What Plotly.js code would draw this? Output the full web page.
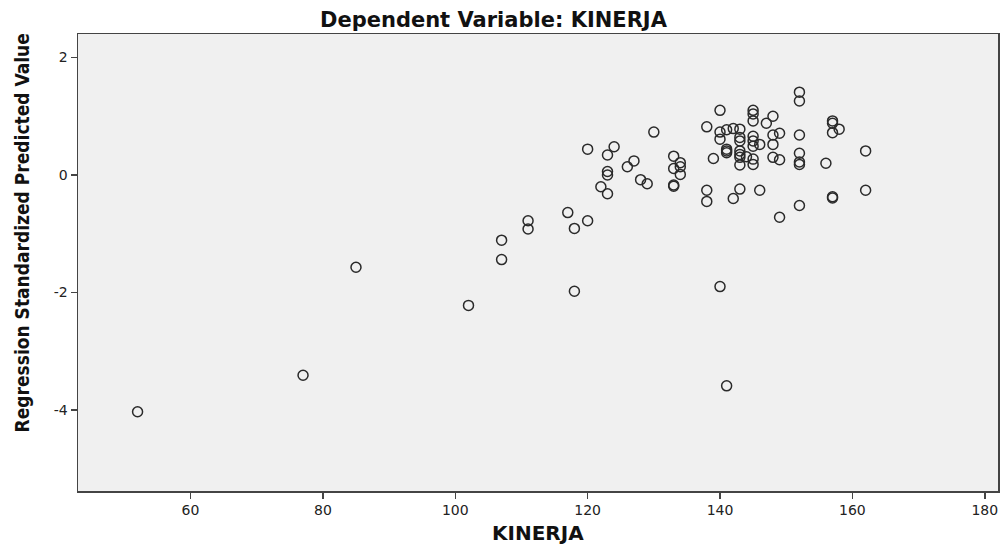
<!DOCTYPE html>
<html>
<head>
<meta charset="utf-8">
<script src="https://cdn.plot.ly/plotly-3.0.1.min.js"></script>
<style>html,body{margin:0;padding:0;background:#fff;}#chart{width:1003px;height:547px;}</style>
</head>
<body>
<div id="chart"></div>
<script>
const kinerja = [52,77,85,102,107,107,111,111,117,118,118,120,120,122,123,123,123,123,124,126,127,128,129,130,133,133,133,133,134,134,134,138,138,138,139,140,140,140,140,141,141,141,141,141,142,142,143,143,143,143,143,143,143,143,144,145,145,145,145,145,145,145,145,146,146,147,148,148,148,148,149,149,149,152,152,152,152,152,152,152,156,157,157,157,157,157,158,162,162];
const predicted = [-4.03,-3.41,-1.57,-2.22,-1.11,-1.44,-0.78,-0.92,-0.64,-0.91,-1.98,-0.78,0.44,-0.20,-0.32,0.34,0.06,0.00,0.48,0.14,0.24,-0.08,-0.15,0.73,0.32,0.11,-0.17,-0.19,0.21,0.14,0.01,0.82,-0.26,-0.45,0.28,1.10,0.73,0.61,-1.90,0.77,0.44,0.41,0.38,-3.59,0.79,-0.40,0.78,0.64,0.58,0.41,0.35,0.30,0.17,-0.24,0.31,1.10,1.04,0.92,0.66,0.58,0.49,0.27,0.18,0.52,-0.26,0.88,1.00,0.68,0.52,0.30,0.71,0.26,-0.72,1.41,1.26,0.68,0.37,0.22,0.18,-0.52,0.20,0.92,0.88,0.72,-0.37,-0.39,0.78,0.41,-0.26];
const xTicks = [60,80,100,120,140,160,180];
const yTicks = [2,0,-2,-4];
const chartTitle = 'Dependent Variable: KINERJA';
const xTitle = 'KINERJA';
const yTitle = 'Regression Standardized Predicted Value';

const narrow = '"DejaVu Sans Condensed", "Liberation Sans Narrow", Arial, sans-serif';
const wide = '"DejaVu Sans", Arial, sans-serif';

const trace = {
  x: kinerja, y: predicted, type: 'scatter', mode: 'markers',
  marker: {symbol: 'circle-open', size: 10, color: '#2a2a2a', line: {width: 1.5, color: '#2a2a2a'}},
  hoverinfo: 'x+y'
};

const layout = {
  width: 1003, height: 547,
  margin: {l: 78, r: 5, t: 34, b: 56},
  paper_bgcolor: '#ffffff', plot_bgcolor: '#f0f0f0',
  showlegend: false,
  xaxis: {
    range: [43, 182], tickvals: xTicks, ticktext: xTicks.map(String),
    ticks: 'outside', ticklen: 6, tickwidth: 1.5, tickcolor: '#444',
    showgrid: false, zeroline: false, showline: true, linecolor: '#444', linewidth: 1.5, mirror: true,
    tickfont: {family: wide, size: 14, color: '#222'}
  },
  yaxis: {
    range: [-5.38, 2.40], tickvals: yTicks, ticktext: yTicks.map(String),
    ticks: 'outside', ticklen: 6, tickwidth: 1.5, tickcolor: '#444',
    showgrid: false, zeroline: false, showline: true, linecolor: '#444', linewidth: 1.5, mirror: true,
    tickfont: {family: wide, size: 14, color: '#222'}
  },
  annotations: [
    {text: '<b>' + chartTitle + '</b>', xref: 'paper', yref: 'paper', x: 0.5, y: 1, yshift: 14, xanchor: 'center', yanchor: 'middle', showarrow: false, xshift: -44,
     font: {family: wide, size: 21, color: '#111'}},
    {text: '<b>' + xTitle + '</b>', xref: 'paper', yref: 'paper', x: 0.5, y: 0, yshift: -42, xanchor: 'center', yanchor: 'middle', showarrow: false,
     font: {family: wide, size: 20, color: '#111'}},
    {text: '<b>' + yTitle + '</b>', xref: 'paper', yref: 'paper', x: 0, y: 0.5, xshift: -57, yshift: 29, xanchor: 'center', yanchor: 'middle', showarrow: false, textangle: -90,
     font: {family: narrow, size: 19, color: '#111'}}
  ]
};

Plotly.newPlot('chart', [trace], layout, {displayModeBar: false, staticPlot: true});
</script>
</body>
</html>
